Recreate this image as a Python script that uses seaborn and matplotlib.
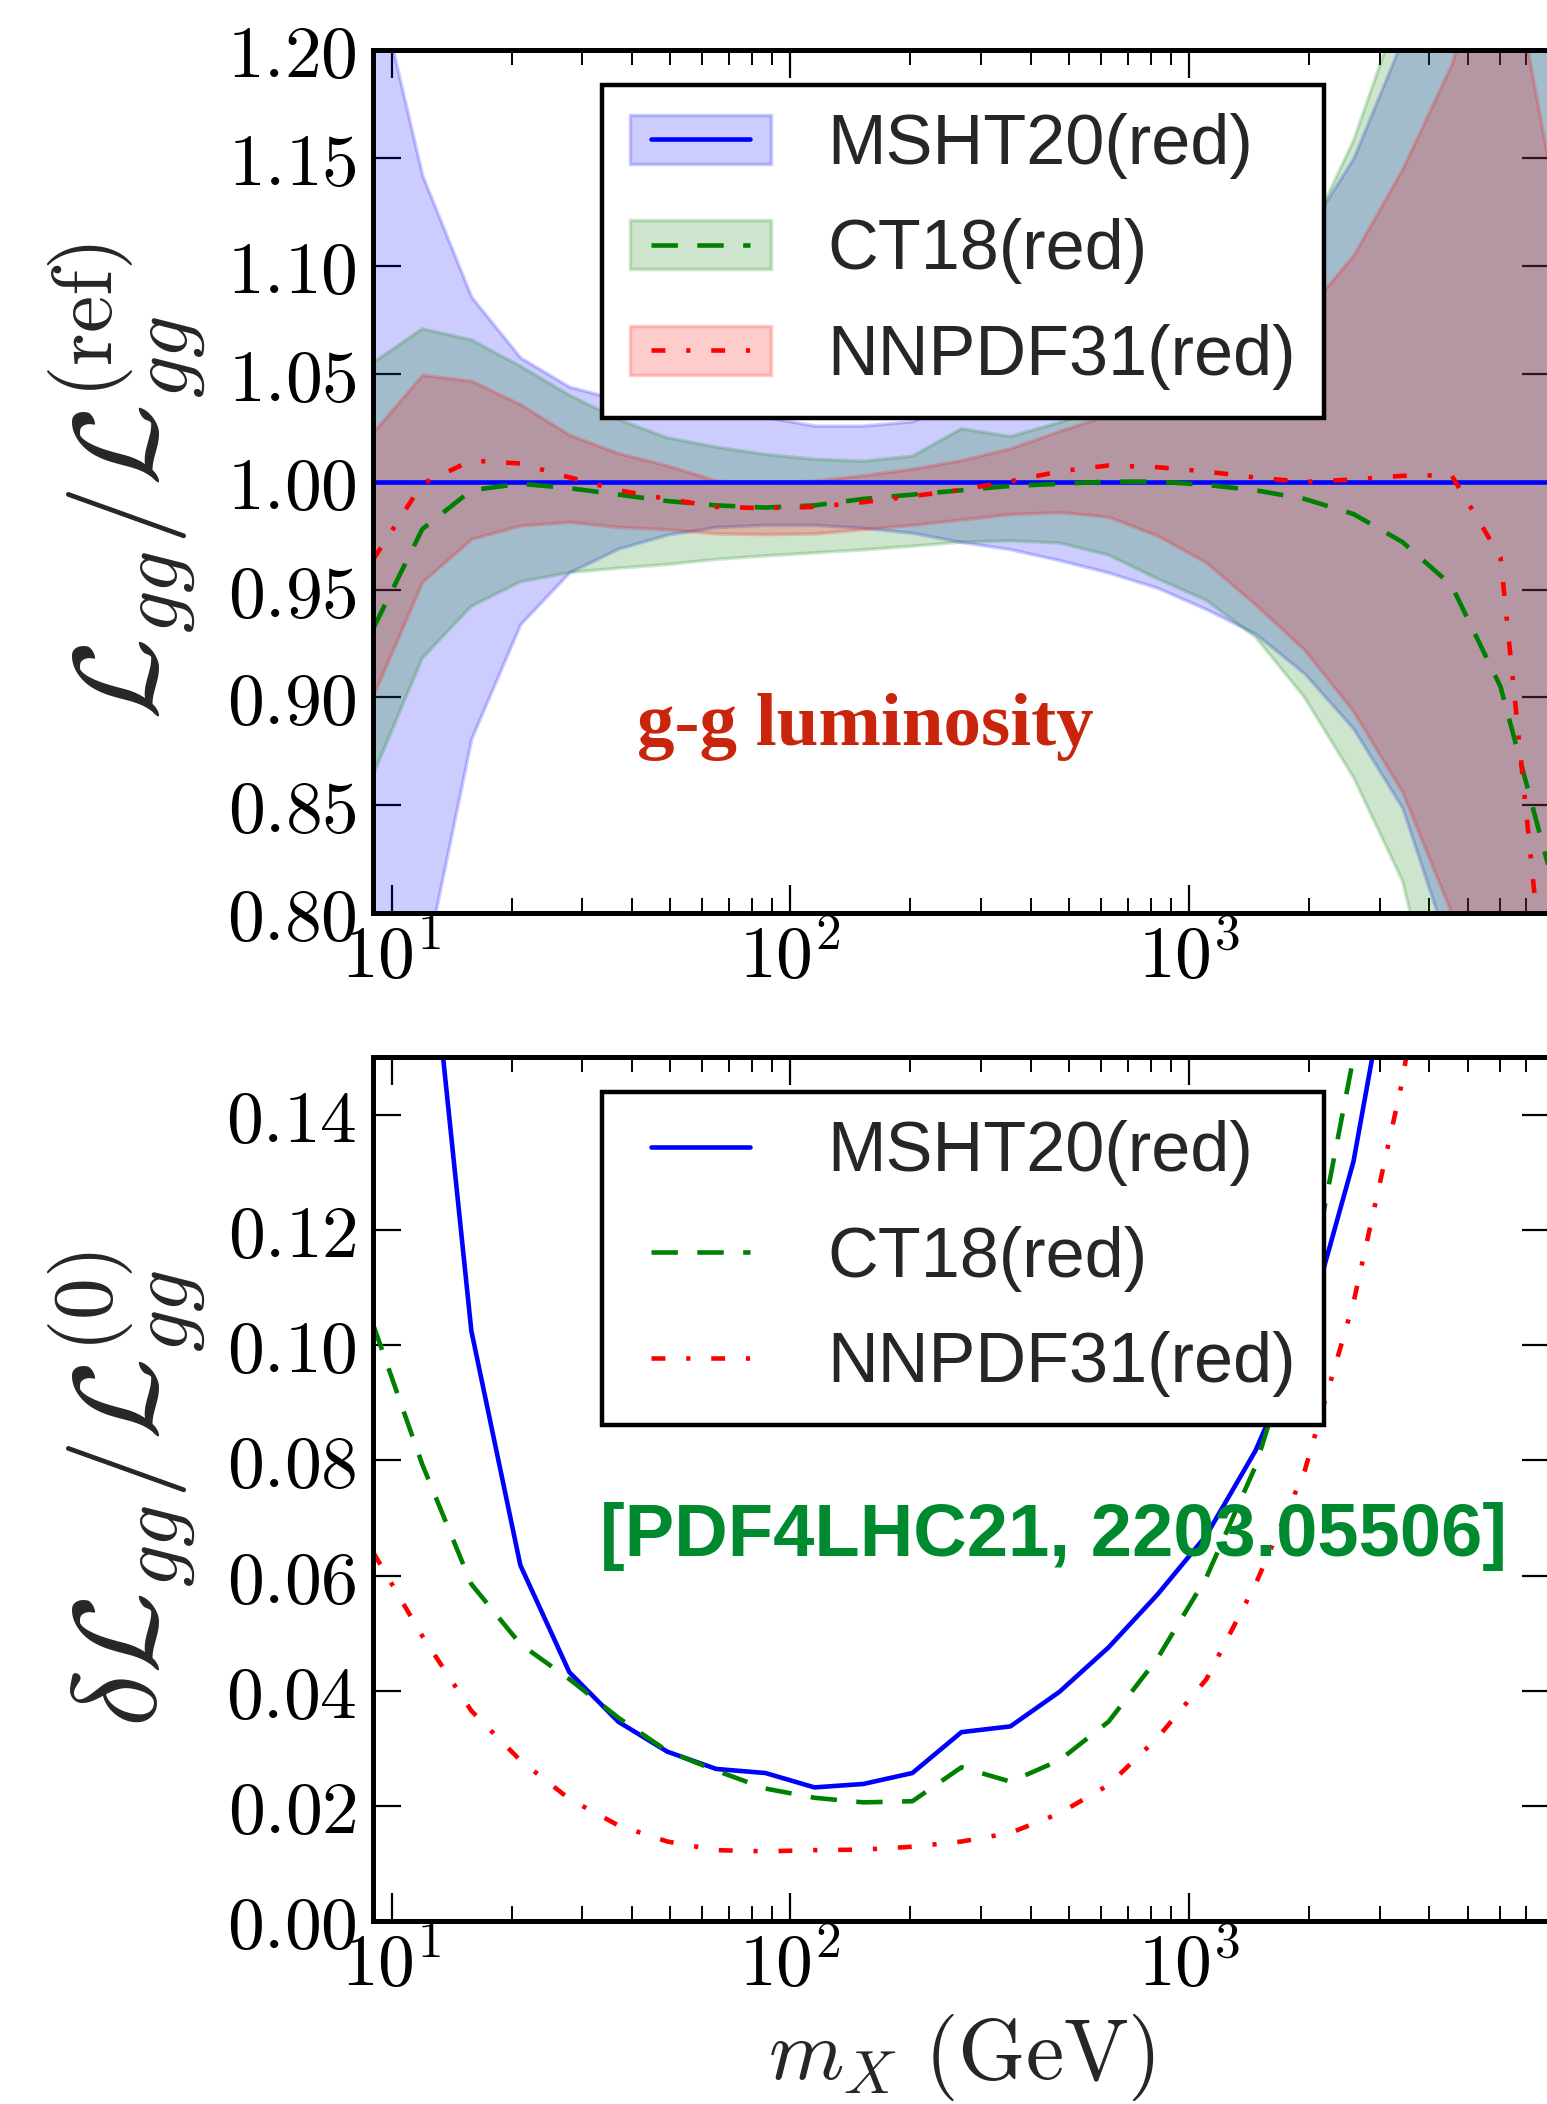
import numpy as np
import pandas as pd
import matplotlib
matplotlib.use("Agg")
import matplotlib.pyplot as plt
import seaborn as sns
from matplotlib.patches import Patch
from matplotlib.lines import Line2D
from matplotlib.ticker import MultipleLocator, LogLocator, NullFormatter, FuncFormatter

# ---------------- data ----------------
m_x = [9.00, 11.94, 15.85, 21.03, 27.91, 37.04, 49.15, 65.22, 86.55, 114.9,
       152.4, 202.2, 268.4, 356.1, 472.6, 627.1, 832.2, 1104, 1466, 1945,
       2580, 3424, 4543, 6029, 8000]

# top panel: ratio to reference (central and band edges)
msht_c = [1.0, 1.0, 1.0, 1.0, 1.0, 1.0, 1.0, 1.0, 1.0, 1.0, 1.0, 1.0, 1.0,
          1.0, 1.0, 1.0, 1.0, 1.0, 1.0, 1.0, 1.0, 1.0, 1.0, 1.0, 1.0]
msht_hi = [1.239, 1.142, 1.0856, 1.0575, 1.044, 1.038, 1.034, 1.031, 1.030, 1.026,
           1.026, 1.028, 1.038, 1.036, 1.043, 1.053, 1.064, 1.075, 1.093, 1.114,
           1.150, 1.205, 1.28, 1.38, 1.45]
msht_lo = [0.640, 0.771, 0.881, 0.934, 0.958, 0.969, 0.9755, 0.979, 0.980, 0.980,
           0.9786, 0.9763, 0.972, 0.9687, 0.9636, 0.9579, 0.9508, 0.9409, 0.9295, 0.9111,
           0.8855, 0.8487, 0.780, 0.68, 0.55]

ct18_c = [0.932, 0.978, 0.996, 0.999, 0.997, 0.994, 0.991, 0.989, 0.988, 0.989,
          0.992, 0.994, 0.996, 0.998, 0.999, 1.000, 1.000, 0.9985, 0.996, 0.992,
          0.985, 0.972, 0.952, 0.905, 0.820]
ct18_hi = [1.0552, 1.0708, 1.0657, 1.0535, 1.0401, 1.0288, 1.0203, 1.016, 1.0126, 1.0104,
           1.0095, 1.0118, 1.0245, 1.0209, 1.0274, 1.035, 1.046, 1.064, 1.086, 1.110,
           1.158, 1.223, 1.29, 1.31, 1.33]
ct18_lo = [0.8643, 0.9182, 0.9423, 0.9536, 0.9579, 0.9599, 0.9616, 0.964, 0.9656, 0.967,
           0.9684, 0.9701, 0.972, 0.9726, 0.9716, 0.966, 0.955, 0.945, 0.928, 0.900,
           0.863, 0.815, 0.72, 0.55, 0.35]

nnpdf_c = [0.964, 0.999, 1.0098, 1.0084, 1.002, 0.996, 0.992, 0.9883, 0.9877, 0.9883,
           0.9905, 0.9933, 0.9962, 1.0002, 1.0047, 1.0075, 1.0067, 1.0047, 1.0019, 0.9999,
           1.001, 1.0027, 1.003, 0.965, 0.740]
nnpdf_hi = [1.0231, 1.0495, 1.0467, 1.0359, 1.0217, 1.0132, 1.0075, 1.0005, 0.9997, 1.0005,
            1.003, 1.006, 1.010, 1.0155, 1.0235, 1.031, 1.039, 1.047, 1.060, 1.078,
            1.105, 1.145, 1.1935, 1.268, 1.145]
nnpdf_lo = [0.9011, 0.9536, 0.9735, 0.9797, 0.9814, 0.979, 0.978, 0.976, 0.9757, 0.976,
            0.978, 0.980, 0.9825, 0.985, 0.9859, 0.9837, 0.975, 0.9625, 0.943, 0.922,
            0.8935, 0.856, 0.80, 0.662, 0.335]

# bottom panel: relative uncertainty
msht_d = [0.300, 0.185, 0.1025, 0.0618, 0.0432, 0.0346, 0.0294, 0.0264, 0.0257, 0.0232,
          0.0238, 0.0257, 0.0328, 0.0338, 0.0398, 0.0475, 0.0567, 0.067, 0.0817, 0.1014,
          0.1319, 0.179, 0.25, 0.35, 0.50]
ct18_d = [0.1035, 0.0793, 0.0585, 0.0481, 0.042, 0.0353, 0.0295, 0.0261, 0.0230, 0.0214,
          0.0206, 0.0208, 0.0267, 0.0242, 0.0279, 0.0346, 0.0456, 0.0597, 0.079, 0.106,
          0.150, 0.21, 0.30, 0.42, 0.60]
nnpdf_d = [0.0640, 0.0495, 0.0365, 0.0279, 0.0212, 0.0166, 0.0138, 0.0123, 0.0121, 0.0123,
           0.0124, 0.0129, 0.0138, 0.0153, 0.0187, 0.0236, 0.0318, 0.0420, 0.0585, 0.0781,
           0.1074, 0.146, 0.20, 0.314, 0.547]

labels = ["MSHT20(red)", "CT18(red)", "NNPDF31(red)"]
colors = ["#0000ff", "#008000", "#ff0000"]

# ---------------- style ----------------
sns.set_style("ticks")
plt.rcParams.update({
    "font.family": ["Liberation Sans", "DejaVu Sans"],
    "mathtext.fontset": "cm",
    "lines.scale_dashes": False,
    "axes.linewidth": 3.6,
    "axes.edgecolor": "black",
    "xtick.color": "black",
    "ytick.color": "black",
})

LW = 3.3
DASH_G = (19, 14)
DASH_R = (10, 15, 3, 15)
dashes = [None, DASH_G, DASH_R]

df = pd.DataFrame({
    "m": m_x,
    "msht_c": msht_c, "ct18_c": ct18_c, "nnpdf_c": nnpdf_c,
    "msht_d": msht_d, "ct18_d": ct18_d, "nnpdf_d": nnpdf_d,
})

fig = plt.figure(figsize=(15.47, 21.04), dpi=100)
ax1 = fig.add_axes([0.24131, 0.56592, 0.76031, 0.41032])
ax2 = fig.add_axes([0.24131, 0.08698, 0.76031, 0.41050])

for ax in (ax1, ax2):
    ax.set_xscale("log")

# bands
for lo, hi, c in [(msht_lo, msht_hi, colors[0]), (ct18_lo, ct18_hi, colors[1]),
                  (nnpdf_lo, nnpdf_hi, colors[2])]:
    ax1.fill_between(m_x, lo, hi, facecolor=c, edgecolor=c, alpha=0.2, lw=2.5)

# central lines and uncertainties
for ax, cols in [(ax1, ["msht_c", "ct18_c", "nnpdf_c"]), (ax2, ["msht_d", "ct18_d", "nnpdf_d"])]:
    for col, c, d in zip(cols, colors, dashes):
        sns.lineplot(data=df, x="m", y=col, ax=ax, color=c, lw=LW,
                     estimator=None, sort=False, legend=False)
        if d is not None:
            ax.lines[-1].set_dashes(d)

fmt_log = FuncFormatter(lambda v, p: r"$10^{%d}$" % int(round(np.log10(v))))
fmt_lin = FuncFormatter(lambda v, p: r"$%.2f$" % v)

for ax, ymin, ymax, step in [(ax1, 0.80, 1.20, 0.05), (ax2, 0.0, 0.15, 0.02)]:
    ax.set_xlim(9, 8000)
    ax.set_ylim(ymin, ymax)
    ax.xaxis.set_major_locator(LogLocator(base=10))
    ax.xaxis.set_minor_locator(LogLocator(base=10, subs=np.arange(2, 10)))
    ax.xaxis.set_minor_formatter(NullFormatter())
    ax.xaxis.set_major_formatter(fmt_log)
    ax.yaxis.set_major_locator(MultipleLocator(step))
    ax.yaxis.set_major_formatter(fmt_lin)
    ax.tick_params(which="both", direction="in", top=True, right=True)
    ax.tick_params(which="major", length=20, width=1.6, labelsize=53)
    ax.tick_params(which="minor", length=11, width=1.4)
    ax.tick_params(axis="y", which="major", pad=12)
    ax.tick_params(axis="x", which="major", pad=8)
    for s in ax.spines.values():
        s.set_linewidth(3.6)
    ax.set_xlabel("")
    ax.set_ylabel("")

ax1.set_ylabel(r"$\mathcal{L}_{gg}/\mathcal{L}_{gg}^{(\mathrm{ref})}$", fontsize=86)
ax2.set_ylabel(r"$\delta\mathcal{L}_{gg}/\mathcal{L}_{gg}^{(0)}$", fontsize=86)
for ax in (ax1, ax2):
    ax.yaxis.label.set_va("center")
    ax.yaxis.set_label_coords(-0.2095, 0.5)

ax2.set_xlabel(r"$m_X\ (\mathrm{GeV})$", fontsize=62)
ax2.xaxis.label.set_va("center")
ax2.xaxis.set_label_coords(0.5, -0.158)

# legends
h1 = [(Patch(facecolor=c, edgecolor=c, alpha=0.2, lw=2.5),
       Line2D([], [], color=c, lw=LW, dashes=d) if d else Line2D([], [], color=c, lw=LW))
      for c, d in zip(colors, dashes)]
h2 = [Line2D([], [], color=c, lw=LW, dashes=d) if d else Line2D([], [], color=c, lw=LW)
      for c, d in zip(colors, dashes)]
for ax, h in [(ax1, h1), (ax2, h2)]:
    leg = ax.legend(h, labels, loc="upper left", bbox_to_anchor=(0.1945, 0.9595),
                    borderaxespad=0, fontsize=50.6, frameon=True, fancybox=False,
                    edgecolor="black", framealpha=1, numpoints=2, handlelength=2.0,
                    handletextpad=0.8, labelspacing=0.56, borderpad=0.4)
    leg.get_frame().set_linewidth(3.2)

ax1.text(0.2243, 0.195, "g-g luminosity", transform=ax1.transAxes, ha="left",
         va="baseline", fontsize=54, fontweight="bold", color="#c8250c",
         family=["Liberation Serif", "DejaVu Serif"])
ax2.text(0.1928, 0.4226, "[PDF4LHC21, 2203.05506]", transform=ax2.transAxes, ha="left",
         va="baseline", fontsize=53.4, fontweight="bold", color="#008a30",
         family=["Liberation Sans", "DejaVu Sans"])

fig.savefig("out.png", dpi=100)
